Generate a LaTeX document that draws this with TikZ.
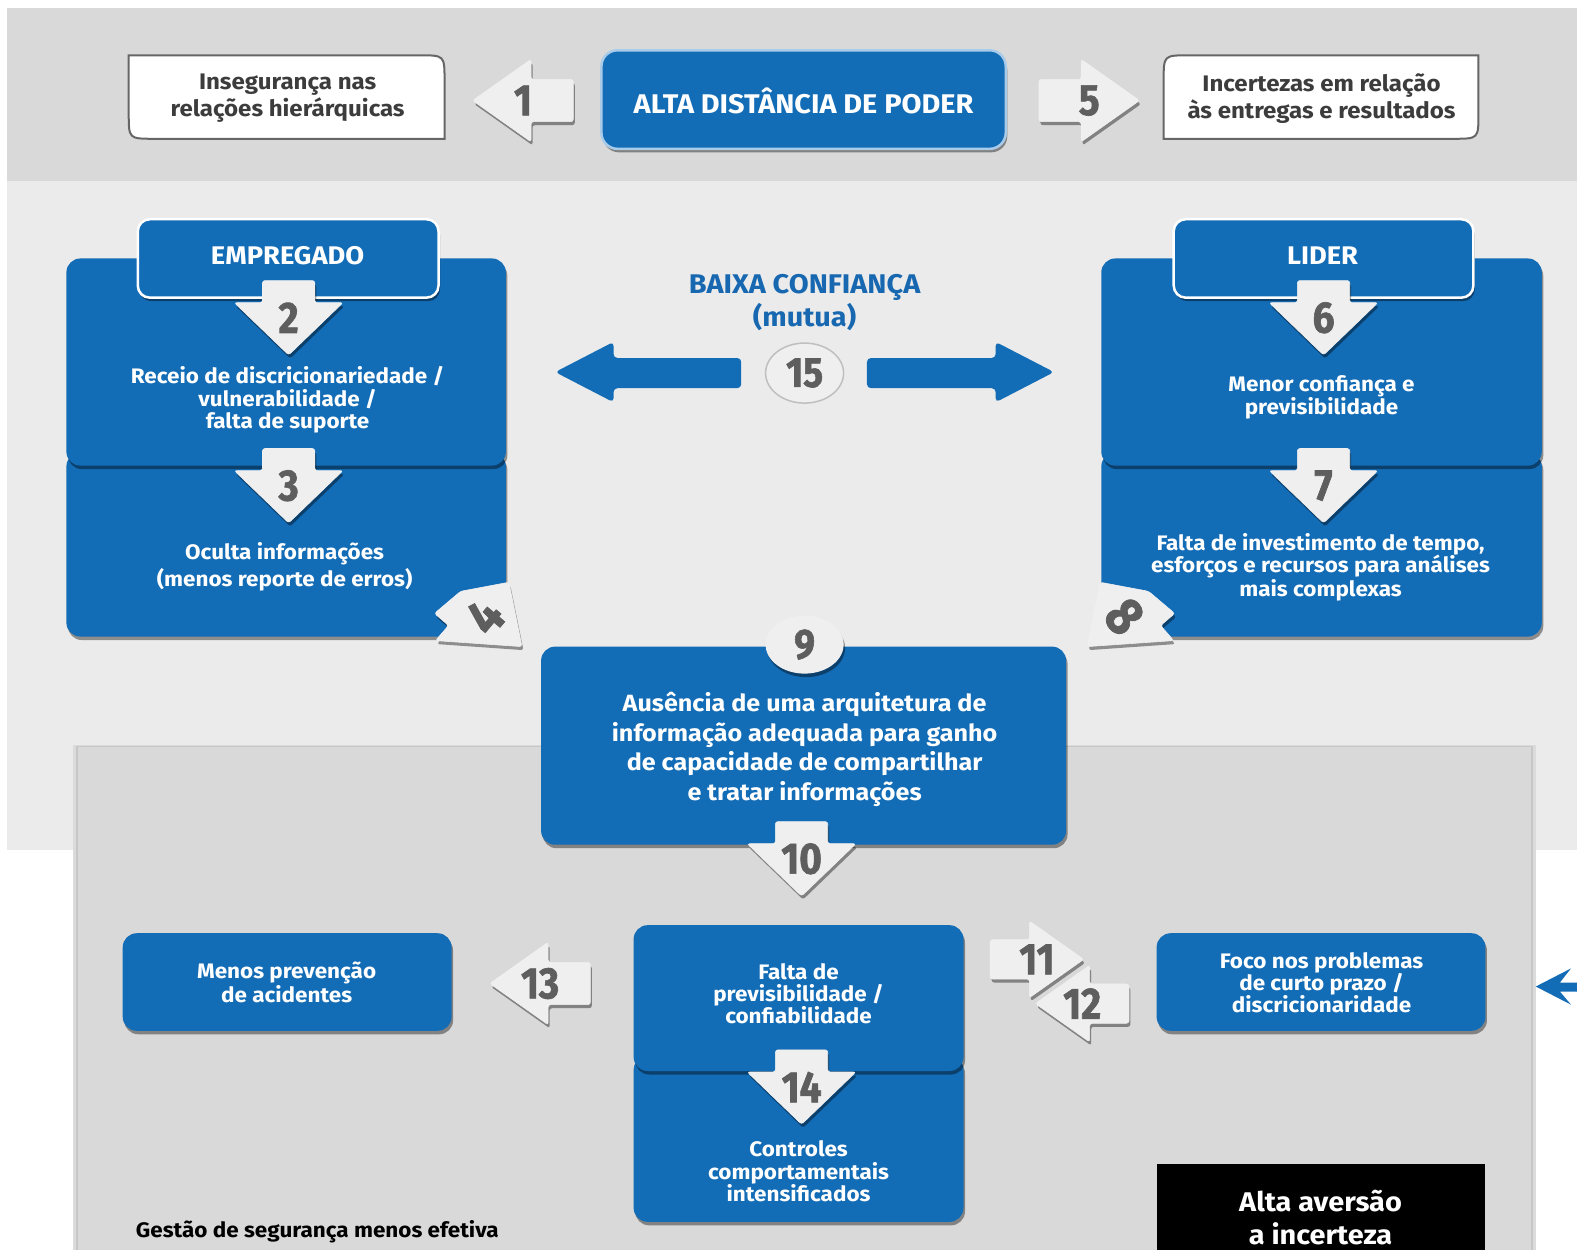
\documentclass[tikz,border=0pt]{standalone}
\usepackage{fontspec}
\setmainfont{Fira Sans}[FakeStretch=1.07]
\newfontfamily\numfont{Fira Sans}[FakeStretch=0.88, FakeBold=1.4]
\usetikzlibrary{shadows,shapes.geometric}

\definecolor{boxblue}{HTML}{136CB6}
\definecolor{bandgray}{HTML}{D9D9D9}
\definecolor{lightband}{HTML}{EBEBEB}
\definecolor{arrowfill}{HTML}{EFEFEF}
\definecolor{numgray}{HTML}{5E5E5E}
\definecolor{textgray}{HTML}{3C3C3C}
\definecolor{titleblue}{HTML}{1768B0}
\definecolor{rimblue}{HTML}{A9CBEA}

\tikzset{
  softshadow/.style={drop shadow={shadow xshift=1.5pt, shadow yshift=-3.5pt, opacity=0.4, fill=black}},
  bluepanel/.style={fill=boxblue, rounded corners=14pt, softshadow},
  whitebox/.style={fill=white, draw=black!60, line width=2pt},
  grayarrow/.style={fill=arrowfill, draw=white!88!gray, line width=0.6pt, rounded corners=2.5pt, softshadow},
  numlabel/.style={text=numgray, font=\numfont\bfseries\fontsize{44}{44}\selectfont, inner sep=0pt},
  boxtext/.style={text=white, align=center, font=\bfseries\fontsize{21}{22.5}\selectfont, inner sep=0pt},
  condtext/.style={text=white, align=center, font=\bfseries\fontsize{21}{22}\selectfont, inner sep=0pt},
  greytext/.style={text=textgray, align=center, font=\bfseries\fontsize{22.5}{27}\selectfont, inner sep=0pt},
  headtext/.style={text=white, align=center, font=\bfseries\fontsize{25.5}{26}\selectfont, inner sep=0pt},
}

% arrow outlines, pointing along +x, centred on the origin
\def\vshape{(-37,-26) -- (-15,-26) -- (-15,-54) -- (37,0) -- (-15,54) -- (-15,26) -- (-37,26) -- cycle}
\def\hshape{(-50,-21) -- (-8,-21) -- (-8,-41) -- (50,0) -- (-8,41) -- (-8,21) -- (-50,21) -- cycle}

% #1 name, #2 centre, #3 transform, #4 outline, #5 number, #6 number rotation
\newcommand{\numarrow}[6]{%
  \path[grayarrow, shift={(#2)}, #3] #4;
  \node[numlabel, rotate=#6] (#1) at (#2) {#5};
}

\begin{document}
\begin{tikzpicture}[x=1.0057pt, y=-1.0056pt]
\useasboundingbox (0,0) rectangle (1568,1243);
\fill[white] (0,0) rectangle (1568,1243);

% background bands
\fill[bandgray] (7,8) rectangle (1568,180);
\fill[lightband] (7,180) rectangle (1568,845);
\fill[black!14] (73,741) rectangle (1527,1243);
\fill[black!22] (76,742) rectangle (1524,1243);
\fill[bandgray] (78,743) rectangle (1522,1243);

% top row
\path[whitebox] (128,55) -- (417,55) .. controls (442,55) .. (442,80) -- (442,138) -- (153,138) .. controls (128,138) .. (128,113) -- cycle;
\node[greytext] (inseg) at (286,98) {Insegurança nas\\relações hierárquicas};
\path[whitebox] (1182,55) -- (1470,55) -- (1470,113) .. controls (1470,138) .. (1445,138) -- (1157,138) -- (1157,80) .. controls (1157,55) .. (1182,55) -- cycle;
\node[greytext] (incert) at (1314,98) {Incertezas em relação\\às entregas e resultados};
\path[fill=boxblue, draw=rimblue, line width=2.5pt, rounded corners=16pt, softshadow] (598,50) rectangle (1000,148);
\node[headtext, font=\bfseries\fontsize{27}{27}\selectfont] (pdi) at (799,100) {ALTA DISTÂNCIA DE PODER};
\numarrow{a1}{520,100}{rotate=180}{\hshape}{1}{0}
\numarrow{a5}{1083,100}{rotate=0}{\hshape}{5}{0}

% employee column
\path[bluepanel] (66,450) rectangle (503,633);
\path[bluepanel] (66,257) rectangle (503,463);
\path[fill=boxblue, draw=white, line width=2.5pt, rounded corners=12pt, softshadow] (137,218) rectangle (436,296);
\node[headtext] (emp) at (286,254) {EMPREGADO};
\node[boxtext] (receio) at (286,398) {Receio de discricionariedade /\\vulnerabilidade /\\falta de suporte};
\node[boxtext, font=\bfseries\fontsize{21}{27}\selectfont] (oculta) at (283,564) {Oculta informações\\(menos reporte de erros)};
\numarrow{a2}{287,316}{rotate=-90}{\vshape}{2}{0}
\numarrow{a3}{287,483}{rotate=-90}{\vshape}{3}{0}
\path[grayarrow] (432,610) -- (458,588) -- (506,579) -- (519,643) -- (433,637) -- (446,622) -- cycle;
\node[numlabel, font=\numfont\bfseries\fontsize{54}{54}\selectfont, rotate=50] (a4) at (482,613) {4};

% leader column
\path[bluepanel] (1095,450) rectangle (1533,633);
\path[bluepanel] (1095,257) rectangle (1533,463);
\path[fill=boxblue, draw=white, line width=2.5pt, rounded corners=12pt, softshadow] (1167,218) rectangle (1465,296);
\node[headtext] (lider) at (1315,254) {LIDER};
\node[boxtext] (menor) at (1314,395) {Menor confiança e\\previsibilidade};
\node[boxtext] (falta) at (1313,564) {Falta de investimento de tempo,\\esforços e recursos para análises\\mais complexas};
\numarrow{a6}{1316,316}{rotate=-90}{\vshape}{6}{0}
\numarrow{a7}{1316,483}{rotate=-90}{\vshape}{7}{0}
\path[grayarrow] (1168,610) -- (1142,588) -- (1094,579) -- (1081,643) -- (1167,637) -- (1154,622) -- cycle;
\node[numlabel, font=\numfont\bfseries\fontsize{54}{54}\selectfont, rotate=-50] (a8) at (1118,613) {8};

% mutual low trust
\node[text=titleblue, align=center, font=\bfseries\fontsize{27}{33}\selectfont, inner sep=0pt] (baixa) at (800,301) {BAIXA CONFIANÇA\\(mutua)};
\fill[boxblue, rounded corners=4pt] (737,356) -- (610,356) -- (610,340) -- (552,370) -- (610,400) -- (610,386) -- (737,386) -- cycle;
\fill[boxblue, rounded corners=4pt] (862,356) -- (990,356) -- (990,340) -- (1048,370) -- (990,400) -- (990,386) -- (862,386) -- cycle;
\node[ellipse, fill=arrowfill, draw=black!25, line width=1.5pt, minimum width=78pt, minimum height=60pt, inner sep=0pt,
      text=numgray, font=\numfont\bfseries\fontsize{42}{42}\selectfont] (n15) at (800,371) {15};

% information architecture
\path[bluepanel] (538,643) rectangle (1060,840);
\node[ellipse, fill=arrowfill, softshadow, minimum width=78pt, minimum height=58pt, inner sep=0pt,
      text=numgray, font=\numfont\bfseries\fontsize{42}{42}\selectfont] (n9) at (800,641) {9};
\node[boxtext, font=\bfseries\fontsize{23.5}{29.5}\selectfont] (arq) at (800,745) {Ausência de uma arquitetura de\\informação adequada para ganho\\de capacidade de compartilhar\\e tratar informações};
\numarrow{a10}{797,854}{rotate=-90}{\vshape}{10}{0}

% lower panel
\path[bluepanel] (630,1050) rectangle (958,1215);
\path[bluepanel] (630,920) rectangle (958,1065);
\node[condtext] (prev) at (794,988) {Falta de\\previsibilidade /\\confiabilidade};
\node[boxtext] (ctrl) at (794,1165) {Controles\\comportamentais\\intensificados};
\numarrow{a14}{797,1081}{rotate=-90}{\vshape}{14}{0}

\path[bluepanel] (122,928) rectangle (449,1025);
\node[boxtext] (menos) at (285,977) {Menos prevenção\\de acidentes};
\numarrow{a13}{537,978}{rotate=180}{\hshape}{13}{0}

\path[bluepanel] (1150,928) rectangle (1477,1025);
\node[condtext] (foco) at (1314,977) {Foco nos problemas\\de curto prazo /\\discricionaridade};
\numarrow{a11}{1031,954}{rotate=0, scale=0.93}{\hshape}{11}{0}
\numarrow{a12}{1076,998}{rotate=180, scale=0.93}{\hshape}{12}{0}

\fill[boxblue] (1527,981) -- (1562,963) -- (1551,977) -- (1568,977) -- (1568,986) -- (1551,986) -- (1562,999) -- cycle;

\fill[black] (1150,1157) rectangle (1477,1243);
\node[text=white, align=center, font=\bfseries\fontsize{27}{33}\selectfont, inner sep=0pt] (aversao) at (1313,1211) {Alta aversão\\a incerteza};

\node[anchor=west, text=black, font=\bfseries\fontsize{21}{22}\selectfont, inner sep=0pt] (gestao) at (135,1225) {Gestão de segurança menos efetiva};
\end{tikzpicture}
\end{document}
